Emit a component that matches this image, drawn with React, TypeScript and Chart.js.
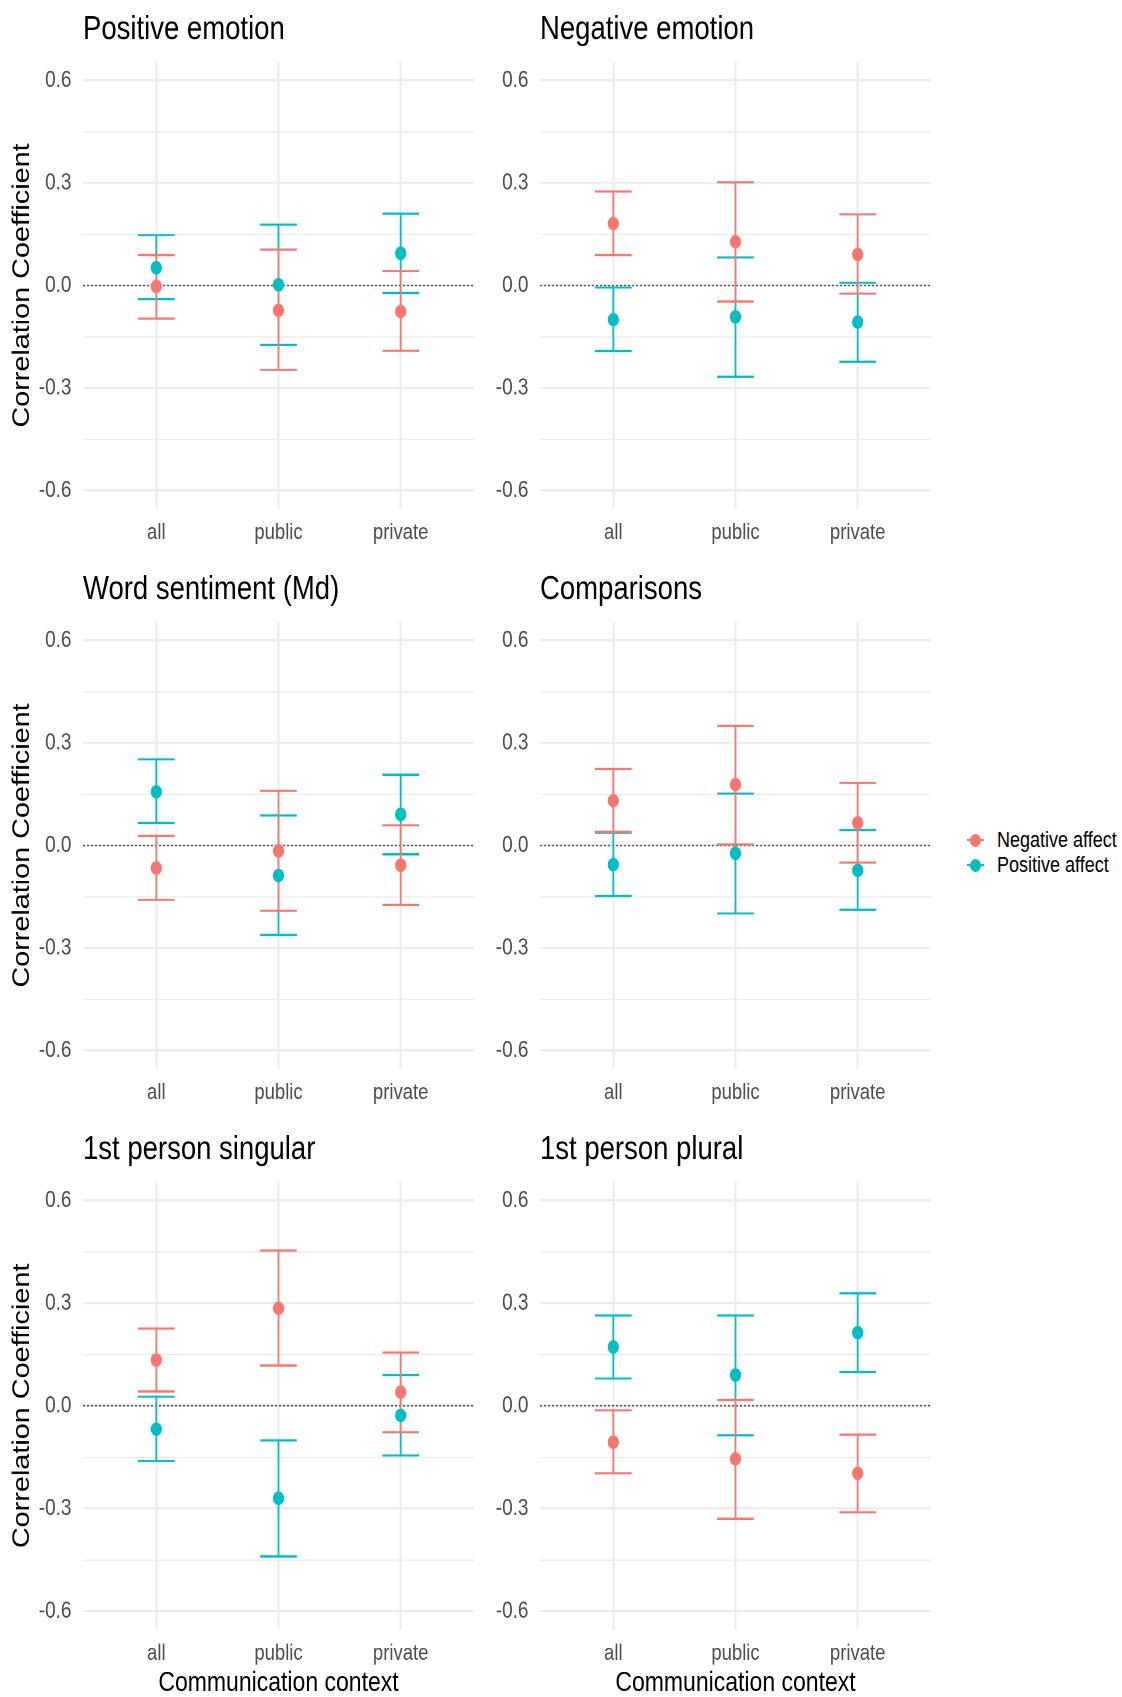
import React, { useEffect, useRef } from "react";
import { Chart, registerables } from "chart.js";

Chart.register(...registerables);

// ---------------- DATA ----------------
const categories = ["all", "public", "private"];
const seriesNames = ["Negative affect", "Positive affect"];
const panelTitles = [
  "Positive emotion",
  "Negative emotion",
  "Word sentiment (Md)",
  "Comparisons",
  "1st person singular",
  "1st person plural",
];
const yTickValues = [-0.6, -0.45, -0.3, -0.15, 0, 0.15, 0.3, 0.45, 0.6];
const yMajorTicks = [-0.6, -0.3, 0, 0.3, 0.6];
const xAxisTitle = "Communication context";
const yAxisTitle = "Correlation Coefficient";

// each row: [estimate, lower CI, upper CI] for all / public / private
const positiveEmotionNeg = [[-0.003, -0.097, 0.089], [-0.073, -0.247, 0.105], [-0.076, -0.191, 0.042]];
const positiveEmotionPos = [[0.052, -0.040, 0.147], [0.002, -0.174, 0.178], [0.094, -0.022, 0.210]];
const negativeEmotionNeg = [[0.181, 0.089, 0.275], [0.128, -0.047, 0.302], [0.091, -0.024, 0.208]];
const negativeEmotionPos = [[-0.100, -0.192, -0.006], [-0.092, -0.267, 0.082], [-0.107, -0.223, 0.008]];
const wordSentimentNeg = [[-0.066, -0.159, 0.028], [-0.016, -0.191, 0.160], [-0.058, -0.174, 0.059]];
const wordSentimentPos = [[0.157, 0.066, 0.252], [-0.088, -0.262, 0.088], [0.091, -0.026, 0.207]];
const comparisonsNeg = [[0.131, 0.040, 0.224], [0.178, 0.003, 0.350], [0.066, -0.050, 0.183]];
const comparisonsPos = [[-0.056, -0.148, 0.037], [-0.023, -0.199, 0.152], [-0.073, -0.188, 0.045]];
const firstSingularNeg = [[0.134, 0.042, 0.226], [0.285, 0.118, 0.454], [0.040, -0.077, 0.156]];
const firstSingularPos = [[-0.068, -0.161, 0.027], [-0.270, -0.440, -0.101], [-0.028, -0.145, 0.090]];
const firstPluralNeg = [[-0.106, -0.197, -0.013], [-0.155, -0.330, 0.017], [-0.197, -0.311, -0.084]];
const firstPluralPos = [[0.172, 0.080, 0.264], [0.090, -0.086, 0.264], [0.214, 0.099, 0.329]];

const negSeries = [positiveEmotionNeg, negativeEmotionNeg, wordSentimentNeg, comparisonsNeg, firstSingularNeg, firstPluralNeg];
const posSeries = [positiveEmotionPos, negativeEmotionPos, wordSentimentPos, comparisonsPos, firstSingularPos, firstPluralPos];

// ---------------- STYLE ----------------
const RED = "#F8766D";
const TEAL = "#00BFC4";
const GRID = "#EBEBEB";
const FONT = "'Liberation Sans', Arial, Helvetica, sans-serif";
const K = 1.2; // vertical stretch of the whole figure
const X_MIN = 0.4;
const X_MAX = 3.6;
const Y_MIN = -0.655;
const Y_MAX = 0.655;
const CAP = 0.15;

const COL_LEFT = [0, 480];
const COL_WIDTH = [480, 460];
const Y_AXIS_W = [83, 60];
const PAD_RIGHT = [6, 9];
const ROW_TOP = [0, 560, 1120];
// logical (unstretched) units below
const ROW_H = [467, 467, 483];
const PAD_TOP = 51.4;
const CHART_BOTTOM = 424.7;
const TITLE_BASE = 32.7;

function whiskers(rows: number[][]) {
  const pts: { x: number; y: number | null }[] = [];
  rows.forEach(([, lo, hi], i) => {
    const x = i + 1;
    pts.push({ x: x - CAP, y: hi }, { x: x + CAP, y: hi }, { x, y: null });
    pts.push({ x, y: hi }, { x, y: lo }, { x, y: null });
    pts.push({ x: x - CAP, y: lo }, { x: x + CAP, y: lo }, { x, y: null });
  });
  return pts;
}
function points(rows: number[][]) {
  return rows.map(([est], i) => ({ x: i + 1, y: est }));
}
const isMajor = (v: number) => yMajorTicks.some((m) => Math.abs(m - v) < 1e-9);

const panelTitlePlugin = {
  id: "panelTitle",
  afterDraw(chart: any, _args: any, opts: any) {
    const ctx = chart.ctx;
    ctx.save();
    ctx.font = `27.5px ${FONT}`;
    ctx.fillStyle = "#000";
    ctx.textBaseline = "alphabetic";
    ctx.textAlign = "left";
    ctx.fillText(opts.text, chart.chartArea.left, opts.baseline);
    ctx.restore();
  },
};

function Panel({ idx }: { idx: number }) {
  const ref = useRef<HTMLCanvasElement>(null);
  const row = Math.floor(idx / 2);
  const col = idx % 2;
  useEffect(() => {
    if (!ref.current) return;
    const neg = negSeries[idx];
    const pos = posSeries[idx];
    const chart = new Chart(ref.current, {
      type: "scatter",
      data: {
        datasets: [
          { label: seriesNames[1], data: points(pos), backgroundColor: TEAL, borderColor: TEAL, pointRadius: 5.6, pointBorderWidth: 0 },
          { label: seriesNames[0], data: points(neg), backgroundColor: RED, borderColor: RED, pointRadius: 5.6, pointBorderWidth: 0 },
          { label: "negCI", data: whiskers(neg), showLine: true, spanGaps: false, borderColor: RED, borderWidth: 1.8, pointRadius: 0 },
          { label: "posCI", data: whiskers(pos), showLine: true, spanGaps: false, borderColor: TEAL, borderWidth: 1.8, pointRadius: 0 },
          {
            label: "zero",
            data: [{ x: X_MIN, y: 0 }, { x: X_MAX, y: 0 }],
            showLine: true,
            borderColor: "#555",
            borderWidth: 1.2,
            borderDash: [2, 2],
            pointRadius: 0,
          },
        ] as any,
      },
      options: {
        animation: false,
        responsive: false,
        devicePixelRatio: 2,
        events: [],
        layout: { padding: { top: PAD_TOP, right: PAD_RIGHT[col], left: 0, bottom: 0 } },
        plugins: {
          legend: { display: false },
          tooltip: { enabled: false },
          panelTitle: { text: panelTitles[idx], baseline: TITLE_BASE },
        } as any,
        scales: {
          x: {
            type: "linear",
            min: X_MIN,
            max: X_MAX,
            afterBuildTicks: (s: any) => {
              s.ticks = categories.map((_, i) => ({ value: i + 1 }));
            },
            afterFit: (s: any) => {
              s.height = ROW_H[row] - CHART_BOTTOM;
            },
            ticks: {
              autoSkip: false,
              maxRotation: 0,
              padding: 8.7,
              color: "#4D4D4D",
              font: { family: FONT, size: 18.5 },
              callback: (v: any) => categories[Math.round(v) - 1] ?? "",
            },
            grid: { color: GRID, lineWidth: 2, drawTicks: false },
            border: { display: false },
            title: {
              display: row === 2,
              text: xAxisTitle,
              color: "#000",
              font: { family: FONT, size: 23 },
              padding: { top: 0, bottom: 0 },
            },
          },
          y: {
            type: "linear",
            min: Y_MIN,
            max: Y_MAX,
            afterBuildTicks: (s: any) => {
              s.ticks = yTickValues.map((v) => ({ value: v }));
            },
            afterFit: (s: any) => {
              s.width = Y_AXIS_W[col];
            },
            ticks: {
              autoSkip: false,
              padding: 11.5,
              color: "#4D4D4D",
              font: { family: FONT, size: 19 },
              callback: (v: any) => (isMajor(v) ? Number(v).toFixed(1) : ""),
            },
            grid: {
              color: GRID,
              lineWidth: (c: any) => (c.tick && isMajor(c.tick.value) ? 1.7 : 0.9),
              drawTicks: false,
            },
            border: { display: false },
            title: {
              display: col === 0,
              text: yAxisTitle,
              color: "#000",
              font: { family: FONT, size: 24 },
              padding: { top: 8, bottom: 0 },
            },
          },
        },
      } as any,
      plugins: [panelTitlePlugin],
    });
    return () => chart.destroy();
  }, [idx]);
  return (
    <canvas
      ref={ref}
      width={COL_WIDTH[col]}
      height={ROW_H[row]}
      style={{
        position: "absolute",
        left: COL_LEFT[col],
        top: ROW_TOP[row],
        width: COL_WIDTH[col] + "px",
        height: ROW_H[row] * K + "px",
      }}
    />
  );
}

function LegendKey({ color }: { color: string }) {
  return (
    <span style={{ position: "relative", display: "inline-block", width: 17, height: 14, marginRight: 13 }}>
      <span style={{ position: "absolute", left: 0, top: 6, width: 17, height: 2, background: color }} />
      <span style={{ position: "absolute", left: 3, top: 0.5, width: 11, height: 13, borderRadius: "50%", background: color }} />
    </span>
  );
}

export default function App() {
  useEffect(() => {
    document.body.style.margin = "0";
    document.body.style.background = "#fff";
  }, []);
  return (
    <div style={{ position: "absolute", left: 0, top: 0, width: 1122, height: 1697, overflow: "hidden", background: "#fff" }}>
      {panelTitles.map((_, i) => (
        <Panel key={i} idx={i} />
      ))}
      <div style={{ position: "absolute", left: 967, top: 827.5, fontFamily: FONT, fontSize: 18, color: "#000" }}>
        {seriesNames.map((n, i) => (
          <div key={n} style={{ display: "flex", alignItems: "center", whiteSpace: "nowrap", height: 25 }}>
            <LegendKey color={i === 0 ? RED : TEAL} />
            <span style={{ display: "inline-block", transform: "scaleY(1.2)" }}>{n}</span>
          </div>
        ))}
      </div>
    </div>
  );
}
